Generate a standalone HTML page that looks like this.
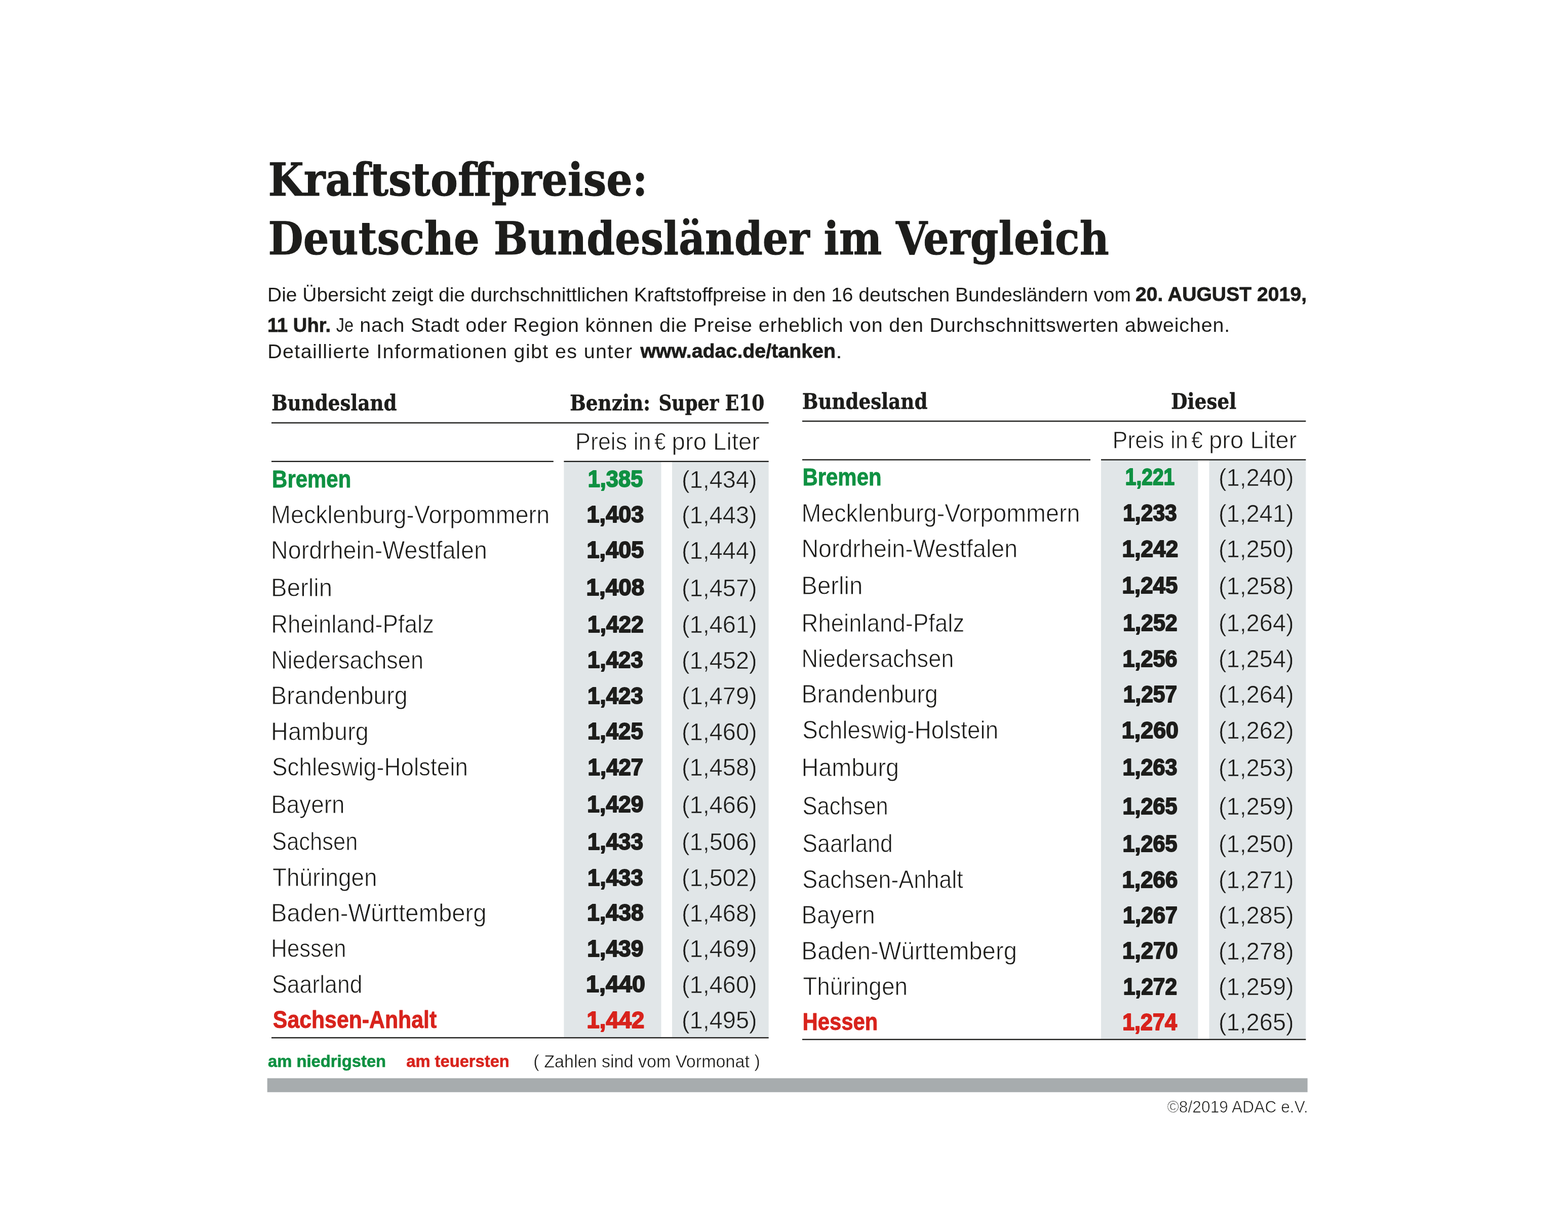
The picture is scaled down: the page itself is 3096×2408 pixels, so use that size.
<!DOCTYPE html>
<html lang="de">
<head>
<meta charset="utf-8">
<title>Kraftstoffpreise: Deutsche Bundesländer im Vergleich</title>
<style>
html,body{margin:0;padding:0;background:#fff}
svg{display:block}
text{white-space:pre}
</style>
</head>
<body>
<svg width="3096" height="2408" viewBox="0 0 3096 2408">
<rect width="3096" height="2408" fill="#fff"/>
<rect x="1113.4" y="911.0" width="192.1" height="1136.0" fill="#e1e6e8"/>
<rect x="1327.0" y="911.0" width="190.7" height="1136.0" fill="#e1e6e8"/>
<rect x="2174.0" y="907.5" width="191.5" height="1143.0" fill="#e1e6e8"/>
<rect x="2387.5" y="907.5" width="190.9" height="1143.0" fill="#e1e6e8"/>
<rect x="536.0" y="833.4" width="981.7" height="2.4" fill="#1d1d1b"/>
<rect x="536.0" y="909.6" width="556.8" height="2.4" fill="#1d1d1b"/>
<rect x="1113.4" y="909.6" width="404.3" height="2.4" fill="#1d1d1b"/>
<rect x="536.0" y="2047.1" width="981.7" height="2.4" fill="#1d1d1b"/>
<rect x="1584.0" y="830.1" width="994.4" height="2.4" fill="#1d1d1b"/>
<rect x="1584.0" y="906.3" width="569.0" height="2.4" fill="#1d1d1b"/>
<rect x="2174.0" y="906.3" width="404.4" height="2.4" fill="#1d1d1b"/>
<rect x="1584.0" y="2050.5" width="994.4" height="2.4" fill="#1d1d1b"/>
<rect x="527.7" y="2128.2" width="2054.0" height="27.5" fill="#a7acae"/>
<text x="529.47" y="385.8" font-family='"DejaVu Serif Condensed", "DejaVu Serif", "Liberation Serif", serif' font-size="89" fill="#1d1d1b" font-weight="700" textLength="749.25" lengthAdjust="spacingAndGlyphs" stroke="#1d1d1b" stroke-width="1.0" stroke-linejoin="round">Kraftstoffpreise:</text>
<text x="529.51" y="502.0" font-family='"DejaVu Serif Condensed", "DejaVu Serif", "Liberation Serif", serif' font-size="89" fill="#1d1d1b" font-weight="700" textLength="1660.22" lengthAdjust="spacingAndGlyphs" stroke="#1d1d1b" stroke-width="1.0" stroke-linejoin="round">Deutsche Bundesländer im Vergleich</text>
<text x="528.04" y="594.5" font-family='"Liberation Sans", sans-serif' font-size="39.5" fill="#1d1d1b" textLength="1704.84" lengthAdjust="spacingAndGlyphs">Die Übersicht zeigt die durchschnittlichen Kraftstoffpreise in den 16 deutschen Bundesländern vom</text>
<text x="2242.01" y="594.1" font-family='"Liberation Sans", sans-serif' font-size="39.5" fill="#1d1d1b" font-weight="700" textLength="338.04" lengthAdjust="spacingAndGlyphs" stroke="#1d1d1b" stroke-width="0.8" stroke-linejoin="round">20. AUGUST 2019,</text>
<text x="527.97" y="654.8" font-family='"Liberation Sans", sans-serif' font-size="39.5" fill="#1d1d1b" font-weight="700" textLength="125.04" lengthAdjust="spacingAndGlyphs" stroke="#1d1d1b" stroke-width="0.8" stroke-linejoin="round">11 Uhr.</text>
<text x="663.80" y="655.2" font-family='"Liberation Sans", sans-serif' font-size="39.5" fill="#1d1d1b" textLength="34.40" lengthAdjust="spacingAndGlyphs">Je</text>
<text x="710.30" y="655.2" font-family='"Liberation Sans", sans-serif' font-size="39.5" fill="#1d1d1b" letter-spacing="0.834">nach Stadt oder Region können die Preise erheblich von den Durchschnittswerten abweichen.</text>
<text x="528.20" y="706.8" font-family='"Liberation Sans", sans-serif' font-size="39.5" fill="#1d1d1b" letter-spacing="1.346">Detaillierte Informationen gibt es unter</text>
<text x="1264.40" y="706.4" font-family='"Liberation Sans", sans-serif' font-size="39.5" fill="#1d1d1b" font-weight="700" textLength="385.62" lengthAdjust="spacingAndGlyphs" stroke="#1d1d1b" stroke-width="0.8" stroke-linejoin="round">www.adac.de/tanken</text>
<text x="1649.96" y="706.8" font-family='"Liberation Sans", sans-serif' font-size="39.5" fill="#1d1d1b" textLength="12.95" lengthAdjust="spacingAndGlyphs">.</text>
<text x="536.33" y="809.6" font-family='"DejaVu Serif Condensed", "DejaVu Serif", "Liberation Serif", serif' font-size="42.5" fill="#1d1d1b" font-weight="700" textLength="247.28" lengthAdjust="spacingAndGlyphs" stroke="#1d1d1b" stroke-width="0.6" stroke-linejoin="round">Bundesland</text>
<text x="1125.32" y="809.6" font-family='"DejaVu Serif Condensed", "DejaVu Serif", "Liberation Serif", serif' font-size="42.5" fill="#1d1d1b" font-weight="700" textLength="158.71" lengthAdjust="spacingAndGlyphs" stroke="#1d1d1b" stroke-width="0.6" stroke-linejoin="round">Benzin:</text>
<text x="1300.42" y="809.6" font-family='"DejaVu Serif Condensed", "DejaVu Serif", "Liberation Serif", serif' font-size="42.5" fill="#1d1d1b" font-weight="700" textLength="208.79" lengthAdjust="spacingAndGlyphs" stroke="#1d1d1b" stroke-width="0.6" stroke-linejoin="round">Super E10</text>
<text x="1584.03" y="806.6" font-family='"DejaVu Serif Condensed", "DejaVu Serif", "Liberation Serif", serif' font-size="42.5" fill="#1d1d1b" font-weight="700" textLength="247.38" lengthAdjust="spacingAndGlyphs" stroke="#1d1d1b" stroke-width="0.6" stroke-linejoin="round">Bundesland</text>
<text x="2312.33" y="806.5" font-family='"DejaVu Serif Condensed", "DejaVu Serif", "Liberation Serif", serif' font-size="42.5" fill="#1d1d1b" font-weight="700" textLength="128.89" lengthAdjust="spacingAndGlyphs" stroke="#1d1d1b" stroke-width="0.6" stroke-linejoin="round">Diesel</text>
<text x="1136.07" y="888.0" font-family='"Liberation Sans", sans-serif' font-size="48" fill="#1d1d1b" textLength="149.57" lengthAdjust="spacingAndGlyphs" stroke="#fff" stroke-width="0.85" stroke-linejoin="round">Preis in</text>
<text x="1291.88" y="888.0" font-family='"Liberation Sans", sans-serif' font-size="48" fill="#1d1d1b" textLength="22.59" lengthAdjust="spacingAndGlyphs" stroke="#fff" stroke-width="0.85" stroke-linejoin="round">€</text>
<text x="1326.62" y="888.0" font-family='"Liberation Sans", sans-serif' font-size="48" fill="#1d1d1b" textLength="173.49" lengthAdjust="spacingAndGlyphs" stroke="#fff" stroke-width="0.85" stroke-linejoin="round">pro Liter</text>
<text x="2196.47" y="885.3" font-family='"Liberation Sans", sans-serif' font-size="48" fill="#1d1d1b" textLength="149.57" lengthAdjust="spacingAndGlyphs" stroke="#fff" stroke-width="0.85" stroke-linejoin="round">Preis in</text>
<text x="2352.27" y="885.3" font-family='"Liberation Sans", sans-serif' font-size="48" fill="#1d1d1b" textLength="22.59" lengthAdjust="spacingAndGlyphs" stroke="#fff" stroke-width="0.85" stroke-linejoin="round">€</text>
<text x="2387.02" y="885.3" font-family='"Liberation Sans", sans-serif' font-size="48" fill="#1d1d1b" textLength="173.49" lengthAdjust="spacingAndGlyphs" stroke="#fff" stroke-width="0.85" stroke-linejoin="round">pro Liter</text>
<text x="537.10" y="961.7" font-family='"Liberation Sans", sans-serif' font-size="47.5" fill="#0f9142" font-weight="700" textLength="156.23" lengthAdjust="spacingAndGlyphs" stroke="#0f9142" stroke-width="0.9" stroke-linejoin="round">Bremen</text>
<text x="1160.63" y="961.2" font-family='"Liberation Sans", sans-serif' font-size="46.5" fill="#0f9142" font-weight="700" textLength="108.67" lengthAdjust="spacingAndGlyphs" stroke="#0f9142" stroke-width="2.0" stroke-linejoin="round">1,385</text>
<text x="1345.89" y="962.5" font-family='"Liberation Sans", sans-serif' font-size="48" fill="#1d1d1b" textLength="148.80" lengthAdjust="spacingAndGlyphs" stroke="#e1e6e8" stroke-width="0.6" stroke-linejoin="round">(1,434)</text>
<text x="535.10" y="1032.7" font-family='"Liberation Sans", sans-serif' font-size="49.5" fill="#1d1d1b" textLength="550.01" lengthAdjust="spacingAndGlyphs" stroke="#fff" stroke-width="0.85" stroke-linejoin="round">Mecklenburg-Vorpommern</text>
<text x="1158.56" y="1031.3" font-family='"Liberation Sans", sans-serif' font-size="46.5" fill="#1d1d1b" font-weight="700" textLength="112.77" lengthAdjust="spacingAndGlyphs" stroke="#1d1d1b" stroke-width="2.0" stroke-linejoin="round">1,403</text>
<text x="1345.89" y="1032.6" font-family='"Liberation Sans", sans-serif' font-size="48" fill="#1d1d1b" textLength="148.80" lengthAdjust="spacingAndGlyphs" stroke="#e1e6e8" stroke-width="0.6" stroke-linejoin="round">(1,443)</text>
<text x="535.11" y="1102.8" font-family='"Liberation Sans", sans-serif' font-size="49.5" fill="#1d1d1b" textLength="426.70" lengthAdjust="spacingAndGlyphs" stroke="#fff" stroke-width="0.85" stroke-linejoin="round">Nordrhein-Westfalen</text>
<text x="1158.56" y="1101.4" font-family='"Liberation Sans", sans-serif' font-size="46.5" fill="#1d1d1b" font-weight="700" textLength="112.77" lengthAdjust="spacingAndGlyphs" stroke="#1d1d1b" stroke-width="2.0" stroke-linejoin="round">1,405</text>
<text x="1345.89" y="1102.7" font-family='"Liberation Sans", sans-serif' font-size="48" fill="#1d1d1b" textLength="148.80" lengthAdjust="spacingAndGlyphs" stroke="#e1e6e8" stroke-width="0.6" stroke-linejoin="round">(1,444)</text>
<text x="535.05" y="1176.6" font-family='"Liberation Sans", sans-serif' font-size="49.5" fill="#1d1d1b" textLength="121.10" lengthAdjust="spacingAndGlyphs" stroke="#fff" stroke-width="0.85" stroke-linejoin="round">Berlin</text>
<text x="1157.53" y="1175.2" font-family='"Liberation Sans", sans-serif' font-size="46.5" fill="#1d1d1b" font-weight="700" textLength="114.82" lengthAdjust="spacingAndGlyphs" stroke="#1d1d1b" stroke-width="2.0" stroke-linejoin="round">1,408</text>
<text x="1345.89" y="1176.5" font-family='"Liberation Sans", sans-serif' font-size="48" fill="#1d1d1b" textLength="148.80" lengthAdjust="spacingAndGlyphs" stroke="#e1e6e8" stroke-width="0.6" stroke-linejoin="round">(1,457)</text>
<text x="535.19" y="1249.1" font-family='"Liberation Sans", sans-serif' font-size="49.5" fill="#1d1d1b" textLength="321.74" lengthAdjust="spacingAndGlyphs" stroke="#fff" stroke-width="0.85" stroke-linejoin="round">Rheinland-Pfalz</text>
<text x="1160.10" y="1247.7" font-family='"Liberation Sans", sans-serif' font-size="46.5" fill="#1d1d1b" font-weight="700" textLength="110.67" lengthAdjust="spacingAndGlyphs" stroke="#1d1d1b" stroke-width="2.0" stroke-linejoin="round">1,422</text>
<text x="1345.89" y="1249.0" font-family='"Liberation Sans", sans-serif' font-size="48" fill="#1d1d1b" textLength="148.80" lengthAdjust="spacingAndGlyphs" stroke="#e1e6e8" stroke-width="0.6" stroke-linejoin="round">(1,461)</text>
<text x="535.23" y="1319.8" font-family='"Liberation Sans", sans-serif' font-size="49.5" fill="#1d1d1b" textLength="300.80" lengthAdjust="spacingAndGlyphs" stroke="#fff" stroke-width="0.85" stroke-linejoin="round">Niedersachsen</text>
<text x="1160.11" y="1318.4" font-family='"Liberation Sans", sans-serif' font-size="46.5" fill="#1d1d1b" font-weight="700" textLength="109.70" lengthAdjust="spacingAndGlyphs" stroke="#1d1d1b" stroke-width="2.0" stroke-linejoin="round">1,423</text>
<text x="1345.89" y="1319.7" font-family='"Liberation Sans", sans-serif' font-size="48" fill="#1d1d1b" textLength="148.80" lengthAdjust="spacingAndGlyphs" stroke="#e1e6e8" stroke-width="0.6" stroke-linejoin="round">(1,452)</text>
<text x="535.11" y="1390.3" font-family='"Liberation Sans", sans-serif' font-size="49.5" fill="#1d1d1b" textLength="269.60" lengthAdjust="spacingAndGlyphs" stroke="#fff" stroke-width="0.85" stroke-linejoin="round">Brandenburg</text>
<text x="1160.11" y="1388.9" font-family='"Liberation Sans", sans-serif' font-size="46.5" fill="#1d1d1b" font-weight="700" textLength="109.70" lengthAdjust="spacingAndGlyphs" stroke="#1d1d1b" stroke-width="2.0" stroke-linejoin="round">1,423</text>
<text x="1345.89" y="1390.2" font-family='"Liberation Sans", sans-serif' font-size="48" fill="#1d1d1b" textLength="148.80" lengthAdjust="spacingAndGlyphs" stroke="#e1e6e8" stroke-width="0.6" stroke-linejoin="round">(1,479)</text>
<text x="535.09" y="1460.7" font-family='"Liberation Sans", sans-serif' font-size="49.5" fill="#1d1d1b" textLength="192.73" lengthAdjust="spacingAndGlyphs" stroke="#fff" stroke-width="0.85" stroke-linejoin="round">Hamburg</text>
<text x="1160.11" y="1459.3" font-family='"Liberation Sans", sans-serif' font-size="46.5" fill="#1d1d1b" font-weight="700" textLength="109.70" lengthAdjust="spacingAndGlyphs" stroke="#1d1d1b" stroke-width="2.0" stroke-linejoin="round">1,425</text>
<text x="1345.89" y="1460.6" font-family='"Liberation Sans", sans-serif' font-size="48" fill="#1d1d1b" textLength="148.80" lengthAdjust="spacingAndGlyphs" stroke="#e1e6e8" stroke-width="0.6" stroke-linejoin="round">(1,460)</text>
<text x="537.02" y="1531.3" font-family='"Liberation Sans", sans-serif' font-size="49.5" fill="#1d1d1b" textLength="386.84" lengthAdjust="spacingAndGlyphs" stroke="#fff" stroke-width="0.85" stroke-linejoin="round">Schleswig-Holstein</text>
<text x="1160.62" y="1529.9" font-family='"Liberation Sans", sans-serif' font-size="46.5" fill="#1d1d1b" font-weight="700" textLength="109.64" lengthAdjust="spacingAndGlyphs" stroke="#1d1d1b" stroke-width="2.0" stroke-linejoin="round">1,427</text>
<text x="1345.89" y="1531.2" font-family='"Liberation Sans", sans-serif' font-size="48" fill="#1d1d1b" textLength="148.80" lengthAdjust="spacingAndGlyphs" stroke="#e1e6e8" stroke-width="0.6" stroke-linejoin="round">(1,458)</text>
<text x="535.17" y="1604.6" font-family='"Liberation Sans", sans-serif' font-size="49.5" fill="#1d1d1b" textLength="145.30" lengthAdjust="spacingAndGlyphs" stroke="#fff" stroke-width="0.85" stroke-linejoin="round">Bayern</text>
<text x="1159.34" y="1603.2" font-family='"Liberation Sans", sans-serif' font-size="46.5" fill="#1d1d1b" font-weight="700" textLength="111.23" lengthAdjust="spacingAndGlyphs" stroke="#1d1d1b" stroke-width="2.0" stroke-linejoin="round">1,429</text>
<text x="1345.89" y="1604.5" font-family='"Liberation Sans", sans-serif' font-size="48" fill="#1d1d1b" textLength="148.80" lengthAdjust="spacingAndGlyphs" stroke="#e1e6e8" stroke-width="0.6" stroke-linejoin="round">(1,466)</text>
<text x="537.12" y="1678.3" font-family='"Liberation Sans", sans-serif' font-size="49.5" fill="#1d1d1b" textLength="169.33" lengthAdjust="spacingAndGlyphs" stroke="#fff" stroke-width="0.85" stroke-linejoin="round">Sachsen</text>
<text x="1160.11" y="1676.9" font-family='"Liberation Sans", sans-serif' font-size="46.5" fill="#1d1d1b" font-weight="700" textLength="109.70" lengthAdjust="spacingAndGlyphs" stroke="#1d1d1b" stroke-width="2.0" stroke-linejoin="round">1,433</text>
<text x="1345.89" y="1678.2" font-family='"Liberation Sans", sans-serif' font-size="48" fill="#1d1d1b" textLength="148.80" lengthAdjust="spacingAndGlyphs" stroke="#e1e6e8" stroke-width="0.6" stroke-linejoin="round">(1,506)</text>
<text x="537.95" y="1748.9" font-family='"Liberation Sans", sans-serif' font-size="49.5" fill="#1d1d1b" textLength="206.72" lengthAdjust="spacingAndGlyphs" stroke="#fff" stroke-width="0.85" stroke-linejoin="round">Thüringen</text>
<text x="1160.11" y="1747.5" font-family='"Liberation Sans", sans-serif' font-size="46.5" fill="#1d1d1b" font-weight="700" textLength="109.70" lengthAdjust="spacingAndGlyphs" stroke="#1d1d1b" stroke-width="2.0" stroke-linejoin="round">1,433</text>
<text x="1345.89" y="1748.8" font-family='"Liberation Sans", sans-serif' font-size="48" fill="#1d1d1b" textLength="148.80" lengthAdjust="spacingAndGlyphs" stroke="#e1e6e8" stroke-width="0.6" stroke-linejoin="round">(1,502)</text>
<text x="535.06" y="1818.8" font-family='"Liberation Sans", sans-serif' font-size="49.5" fill="#1d1d1b" textLength="425.58" lengthAdjust="spacingAndGlyphs" stroke="#fff" stroke-width="0.85" stroke-linejoin="round">Baden-Württemberg</text>
<text x="1159.08" y="1817.4" font-family='"Liberation Sans", sans-serif' font-size="46.5" fill="#1d1d1b" font-weight="700" textLength="111.75" lengthAdjust="spacingAndGlyphs" stroke="#1d1d1b" stroke-width="2.0" stroke-linejoin="round">1,438</text>
<text x="1345.89" y="1818.7" font-family='"Liberation Sans", sans-serif' font-size="48" fill="#1d1d1b" textLength="148.80" lengthAdjust="spacingAndGlyphs" stroke="#e1e6e8" stroke-width="0.6" stroke-linejoin="round">(1,468)</text>
<text x="535.34" y="1889.3" font-family='"Liberation Sans", sans-serif' font-size="49.5" fill="#1d1d1b" textLength="148.22" lengthAdjust="spacingAndGlyphs" stroke="#fff" stroke-width="0.85" stroke-linejoin="round">Hessen</text>
<text x="1159.34" y="1887.9" font-family='"Liberation Sans", sans-serif' font-size="46.5" fill="#1d1d1b" font-weight="700" textLength="111.23" lengthAdjust="spacingAndGlyphs" stroke="#1d1d1b" stroke-width="2.0" stroke-linejoin="round">1,439</text>
<text x="1345.89" y="1889.2" font-family='"Liberation Sans", sans-serif' font-size="48" fill="#1d1d1b" textLength="148.80" lengthAdjust="spacingAndGlyphs" stroke="#e1e6e8" stroke-width="0.6" stroke-linejoin="round">(1,469)</text>
<text x="537.07" y="1959.8" font-family='"Liberation Sans", sans-serif' font-size="49.5" fill="#1d1d1b" textLength="178.43" lengthAdjust="spacingAndGlyphs" stroke="#fff" stroke-width="0.85" stroke-linejoin="round">Saarland</text>
<text x="1156.99" y="1958.4" font-family='"Liberation Sans", sans-serif' font-size="46.5" fill="#1d1d1b" font-weight="700" textLength="116.88" lengthAdjust="spacingAndGlyphs" stroke="#1d1d1b" stroke-width="2.0" stroke-linejoin="round">1,440</text>
<text x="1345.89" y="1959.7" font-family='"Liberation Sans", sans-serif' font-size="48" fill="#1d1d1b" textLength="148.80" lengthAdjust="spacingAndGlyphs" stroke="#e1e6e8" stroke-width="0.6" stroke-linejoin="round">(1,460)</text>
<text x="538.85" y="2029.2" font-family='"Liberation Sans", sans-serif' font-size="47.5" fill="#d8231c" font-weight="700" textLength="323.34" lengthAdjust="spacingAndGlyphs" stroke="#d8231c" stroke-width="0.9" stroke-linejoin="round">Sachsen-Anhalt</text>
<text x="1158.54" y="2028.6" font-family='"Liberation Sans", sans-serif' font-size="46.5" fill="#d8231c" font-weight="700" textLength="113.78" lengthAdjust="spacingAndGlyphs" stroke="#d8231c" stroke-width="2.0" stroke-linejoin="round">1,442</text>
<text x="1345.89" y="2029.9" font-family='"Liberation Sans", sans-serif' font-size="48" fill="#1d1d1b" textLength="148.80" lengthAdjust="spacingAndGlyphs" stroke="#e1e6e8" stroke-width="0.6" stroke-linejoin="round">(1,495)</text>
<text x="1584.40" y="957.9" font-family='"Liberation Sans", sans-serif' font-size="47.5" fill="#0f9142" font-weight="700" textLength="156.23" lengthAdjust="spacingAndGlyphs" stroke="#0f9142" stroke-width="0.9" stroke-linejoin="round">Bremen</text>
<text x="2221.72" y="957.4" font-family='"Liberation Sans", sans-serif' font-size="46.5" fill="#0f9142" font-weight="700" textLength="97.60" lengthAdjust="spacingAndGlyphs" stroke="#0f9142" stroke-width="2.0" stroke-linejoin="round">1,221</text>
<text x="2405.89" y="958.7" font-family='"Liberation Sans", sans-serif' font-size="48" fill="#1d1d1b" textLength="148.80" lengthAdjust="spacingAndGlyphs" stroke="#e1e6e8" stroke-width="0.6" stroke-linejoin="round">(1,240)</text>
<text x="1582.40" y="1029.7" font-family='"Liberation Sans", sans-serif' font-size="49.5" fill="#1d1d1b" textLength="550.01" lengthAdjust="spacingAndGlyphs" stroke="#fff" stroke-width="0.85" stroke-linejoin="round">Mecklenburg-Vorpommern</text>
<text x="2217.17" y="1028.3" font-family='"Liberation Sans", sans-serif' font-size="46.5" fill="#1d1d1b" font-weight="700" textLength="106.62" lengthAdjust="spacingAndGlyphs" stroke="#1d1d1b" stroke-width="2.0" stroke-linejoin="round">1,233</text>
<text x="2405.89" y="1029.6" font-family='"Liberation Sans", sans-serif' font-size="48" fill="#1d1d1b" textLength="148.80" lengthAdjust="spacingAndGlyphs" stroke="#e1e6e8" stroke-width="0.6" stroke-linejoin="round">(1,241)</text>
<text x="1582.41" y="1099.9" font-family='"Liberation Sans", sans-serif' font-size="49.5" fill="#1d1d1b" textLength="426.70" lengthAdjust="spacingAndGlyphs" stroke="#fff" stroke-width="0.85" stroke-linejoin="round">Nordrhein-Westfalen</text>
<text x="2215.60" y="1098.5" font-family='"Liberation Sans", sans-serif' font-size="46.5" fill="#1d1d1b" font-weight="700" textLength="110.67" lengthAdjust="spacingAndGlyphs" stroke="#1d1d1b" stroke-width="2.0" stroke-linejoin="round">1,242</text>
<text x="2405.89" y="1099.8" font-family='"Liberation Sans", sans-serif' font-size="48" fill="#1d1d1b" textLength="148.80" lengthAdjust="spacingAndGlyphs" stroke="#e1e6e8" stroke-width="0.6" stroke-linejoin="round">(1,250)</text>
<text x="1582.35" y="1172.7" font-family='"Liberation Sans", sans-serif' font-size="49.5" fill="#1d1d1b" textLength="121.10" lengthAdjust="spacingAndGlyphs" stroke="#fff" stroke-width="0.85" stroke-linejoin="round">Berlin</text>
<text x="2215.61" y="1171.3" font-family='"Liberation Sans", sans-serif' font-size="46.5" fill="#1d1d1b" font-weight="700" textLength="109.70" lengthAdjust="spacingAndGlyphs" stroke="#1d1d1b" stroke-width="2.0" stroke-linejoin="round">1,245</text>
<text x="2405.89" y="1172.6" font-family='"Liberation Sans", sans-serif' font-size="48" fill="#1d1d1b" textLength="148.80" lengthAdjust="spacingAndGlyphs" stroke="#e1e6e8" stroke-width="0.6" stroke-linejoin="round">(1,258)</text>
<text x="1582.49" y="1246.5" font-family='"Liberation Sans", sans-serif' font-size="49.5" fill="#1d1d1b" textLength="321.74" lengthAdjust="spacingAndGlyphs" stroke="#fff" stroke-width="0.85" stroke-linejoin="round">Rheinland-Pfalz</text>
<text x="2217.15" y="1245.1" font-family='"Liberation Sans", sans-serif' font-size="46.5" fill="#1d1d1b" font-weight="700" textLength="107.57" lengthAdjust="spacingAndGlyphs" stroke="#1d1d1b" stroke-width="2.0" stroke-linejoin="round">1,252</text>
<text x="2405.89" y="1246.4" font-family='"Liberation Sans", sans-serif' font-size="48" fill="#1d1d1b" textLength="148.80" lengthAdjust="spacingAndGlyphs" stroke="#e1e6e8" stroke-width="0.6" stroke-linejoin="round">(1,264)</text>
<text x="1582.53" y="1317.0" font-family='"Liberation Sans", sans-serif' font-size="49.5" fill="#1d1d1b" textLength="300.80" lengthAdjust="spacingAndGlyphs" stroke="#fff" stroke-width="0.85" stroke-linejoin="round">Niedersachsen</text>
<text x="2216.39" y="1315.6" font-family='"Liberation Sans", sans-serif' font-size="46.5" fill="#1d1d1b" font-weight="700" textLength="108.16" lengthAdjust="spacingAndGlyphs" stroke="#1d1d1b" stroke-width="2.0" stroke-linejoin="round">1,256</text>
<text x="2405.89" y="1316.9" font-family='"Liberation Sans", sans-serif' font-size="48" fill="#1d1d1b" textLength="148.80" lengthAdjust="spacingAndGlyphs" stroke="#e1e6e8" stroke-width="0.6" stroke-linejoin="round">(1,254)</text>
<text x="1582.41" y="1387.4" font-family='"Liberation Sans", sans-serif' font-size="49.5" fill="#1d1d1b" textLength="269.60" lengthAdjust="spacingAndGlyphs" stroke="#fff" stroke-width="0.85" stroke-linejoin="round">Brandenburg</text>
<text x="2217.67" y="1386.0" font-family='"Liberation Sans", sans-serif' font-size="46.5" fill="#1d1d1b" font-weight="700" textLength="106.53" lengthAdjust="spacingAndGlyphs" stroke="#1d1d1b" stroke-width="2.0" stroke-linejoin="round">1,257</text>
<text x="2405.89" y="1387.3" font-family='"Liberation Sans", sans-serif' font-size="48" fill="#1d1d1b" textLength="148.80" lengthAdjust="spacingAndGlyphs" stroke="#e1e6e8" stroke-width="0.6" stroke-linejoin="round">(1,264)</text>
<text x="1584.32" y="1458.3" font-family='"Liberation Sans", sans-serif' font-size="49.5" fill="#1d1d1b" textLength="386.84" lengthAdjust="spacingAndGlyphs" stroke="#fff" stroke-width="0.85" stroke-linejoin="round">Schleswig-Holstein</text>
<text x="2214.82" y="1456.9" font-family='"Liberation Sans", sans-serif' font-size="46.5" fill="#1d1d1b" font-weight="700" textLength="112.22" lengthAdjust="spacingAndGlyphs" stroke="#1d1d1b" stroke-width="2.0" stroke-linejoin="round">1,260</text>
<text x="2405.89" y="1458.2" font-family='"Liberation Sans", sans-serif' font-size="48" fill="#1d1d1b" textLength="148.80" lengthAdjust="spacingAndGlyphs" stroke="#e1e6e8" stroke-width="0.6" stroke-linejoin="round">(1,262)</text>
<text x="1582.39" y="1531.8" font-family='"Liberation Sans", sans-serif' font-size="49.5" fill="#1d1d1b" textLength="192.73" lengthAdjust="spacingAndGlyphs" stroke="#fff" stroke-width="0.85" stroke-linejoin="round">Hamburg</text>
<text x="2216.39" y="1530.4" font-family='"Liberation Sans", sans-serif' font-size="46.5" fill="#1d1d1b" font-weight="700" textLength="108.16" lengthAdjust="spacingAndGlyphs" stroke="#1d1d1b" stroke-width="2.0" stroke-linejoin="round">1,263</text>
<text x="2405.89" y="1531.7" font-family='"Liberation Sans", sans-serif' font-size="48" fill="#1d1d1b" textLength="148.80" lengthAdjust="spacingAndGlyphs" stroke="#e1e6e8" stroke-width="0.6" stroke-linejoin="round">(1,253)</text>
<text x="1584.42" y="1608.3" font-family='"Liberation Sans", sans-serif' font-size="49.5" fill="#1d1d1b" textLength="169.33" lengthAdjust="spacingAndGlyphs" stroke="#fff" stroke-width="0.85" stroke-linejoin="round">Sachsen</text>
<text x="2216.39" y="1606.9" font-family='"Liberation Sans", sans-serif' font-size="46.5" fill="#1d1d1b" font-weight="700" textLength="108.16" lengthAdjust="spacingAndGlyphs" stroke="#1d1d1b" stroke-width="2.0" stroke-linejoin="round">1,265</text>
<text x="2405.89" y="1608.2" font-family='"Liberation Sans", sans-serif' font-size="48" fill="#1d1d1b" textLength="148.80" lengthAdjust="spacingAndGlyphs" stroke="#e1e6e8" stroke-width="0.6" stroke-linejoin="round">(1,259)</text>
<text x="1584.37" y="1681.9" font-family='"Liberation Sans", sans-serif' font-size="49.5" fill="#1d1d1b" textLength="178.43" lengthAdjust="spacingAndGlyphs" stroke="#fff" stroke-width="0.85" stroke-linejoin="round">Saarland</text>
<text x="2216.39" y="1680.5" font-family='"Liberation Sans", sans-serif' font-size="46.5" fill="#1d1d1b" font-weight="700" textLength="108.16" lengthAdjust="spacingAndGlyphs" stroke="#1d1d1b" stroke-width="2.0" stroke-linejoin="round">1,265</text>
<text x="2405.89" y="1681.8" font-family='"Liberation Sans", sans-serif' font-size="48" fill="#1d1d1b" textLength="148.80" lengthAdjust="spacingAndGlyphs" stroke="#e1e6e8" stroke-width="0.6" stroke-linejoin="round">(1,250)</text>
<text x="1584.36" y="1753.3" font-family='"Liberation Sans", sans-serif' font-size="49.5" fill="#1d1d1b" textLength="317.44" lengthAdjust="spacingAndGlyphs" stroke="#fff" stroke-width="0.85" stroke-linejoin="round">Sachsen-Anhalt</text>
<text x="2215.61" y="1751.9" font-family='"Liberation Sans", sans-serif' font-size="46.5" fill="#1d1d1b" font-weight="700" textLength="109.70" lengthAdjust="spacingAndGlyphs" stroke="#1d1d1b" stroke-width="2.0" stroke-linejoin="round">1,266</text>
<text x="2405.89" y="1753.2" font-family='"Liberation Sans", sans-serif' font-size="48" fill="#1d1d1b" textLength="148.80" lengthAdjust="spacingAndGlyphs" stroke="#e1e6e8" stroke-width="0.6" stroke-linejoin="round">(1,271)</text>
<text x="1582.47" y="1823.1" font-family='"Liberation Sans", sans-serif' font-size="49.5" fill="#1d1d1b" textLength="145.30" lengthAdjust="spacingAndGlyphs" stroke="#fff" stroke-width="0.85" stroke-linejoin="round">Bayern</text>
<text x="2216.89" y="1821.7" font-family='"Liberation Sans", sans-serif' font-size="46.5" fill="#1d1d1b" font-weight="700" textLength="108.09" lengthAdjust="spacingAndGlyphs" stroke="#1d1d1b" stroke-width="2.0" stroke-linejoin="round">1,267</text>
<text x="2405.89" y="1823.0" font-family='"Liberation Sans", sans-serif' font-size="48" fill="#1d1d1b" textLength="148.80" lengthAdjust="spacingAndGlyphs" stroke="#e1e6e8" stroke-width="0.6" stroke-linejoin="round">(1,285)</text>
<text x="1582.36" y="1893.8" font-family='"Liberation Sans", sans-serif' font-size="49.5" fill="#1d1d1b" textLength="425.58" lengthAdjust="spacingAndGlyphs" stroke="#fff" stroke-width="0.85" stroke-linejoin="round">Baden-Württemberg</text>
<text x="2216.12" y="1892.4" font-family='"Liberation Sans", sans-serif' font-size="46.5" fill="#1d1d1b" font-weight="700" textLength="109.64" lengthAdjust="spacingAndGlyphs" stroke="#1d1d1b" stroke-width="2.0" stroke-linejoin="round">1,270</text>
<text x="2405.89" y="1893.7" font-family='"Liberation Sans", sans-serif' font-size="48" fill="#1d1d1b" textLength="148.80" lengthAdjust="spacingAndGlyphs" stroke="#e1e6e8" stroke-width="0.6" stroke-linejoin="round">(1,278)</text>
<text x="1585.25" y="1964.1" font-family='"Liberation Sans", sans-serif' font-size="49.5" fill="#1d1d1b" textLength="206.72" lengthAdjust="spacingAndGlyphs" stroke="#fff" stroke-width="0.85" stroke-linejoin="round">Thüringen</text>
<text x="2217.67" y="1962.7" font-family='"Liberation Sans", sans-serif' font-size="46.5" fill="#1d1d1b" font-weight="700" textLength="106.53" lengthAdjust="spacingAndGlyphs" stroke="#1d1d1b" stroke-width="2.0" stroke-linejoin="round">1,272</text>
<text x="2405.89" y="1964.0" font-family='"Liberation Sans", sans-serif' font-size="48" fill="#1d1d1b" textLength="148.80" lengthAdjust="spacingAndGlyphs" stroke="#e1e6e8" stroke-width="0.6" stroke-linejoin="round">(1,259)</text>
<text x="1584.40" y="2033.2" font-family='"Liberation Sans", sans-serif' font-size="47.5" fill="#d8231c" font-weight="700" textLength="149.02" lengthAdjust="spacingAndGlyphs" stroke="#d8231c" stroke-width="0.9" stroke-linejoin="round">Hessen</text>
<text x="2216.15" y="2032.6" font-family='"Liberation Sans", sans-serif' font-size="46.5" fill="#d8231c" font-weight="700" textLength="107.72" lengthAdjust="spacingAndGlyphs" stroke="#d8231c" stroke-width="2.0" stroke-linejoin="round">1,274</text>
<text x="2405.89" y="2033.9" font-family='"Liberation Sans", sans-serif' font-size="48" fill="#1d1d1b" textLength="148.80" lengthAdjust="spacingAndGlyphs" stroke="#e1e6e8" stroke-width="0.6" stroke-linejoin="round">(1,265)</text>
<text x="529.00" y="2105.7" font-family='"Liberation Sans", sans-serif' font-size="33" fill="#0f9142" font-weight="700" textLength="233.15" lengthAdjust="spacingAndGlyphs" stroke="#0f9142" stroke-width="0.6" stroke-linejoin="round">am niedrigsten</text>
<text x="802.20" y="2105.7" font-family='"Liberation Sans", sans-serif' font-size="33" fill="#d8231c" font-weight="700" textLength="203.65" lengthAdjust="spacingAndGlyphs" stroke="#d8231c" stroke-width="0.6" stroke-linejoin="round">am teuersten</text>
<text x="1053.35" y="2106.7" font-family='"Liberation Sans", sans-serif' font-size="35" fill="#1d1d1b" textLength="447.46" lengthAdjust="spacingAndGlyphs" stroke="#fff" stroke-width="0.4" stroke-linejoin="round">( Zahlen sind vom Vormonat )</text>
<text x="2304.45" y="2195.9" font-family='"Liberation Sans", sans-serif' font-size="33" fill="#1d1d1b" textLength="278.37" lengthAdjust="spacingAndGlyphs" stroke="#fff" stroke-width="0.7" stroke-linejoin="round">©8/2019 ADAC e.V.</text>
</svg>
</body>
</html>
